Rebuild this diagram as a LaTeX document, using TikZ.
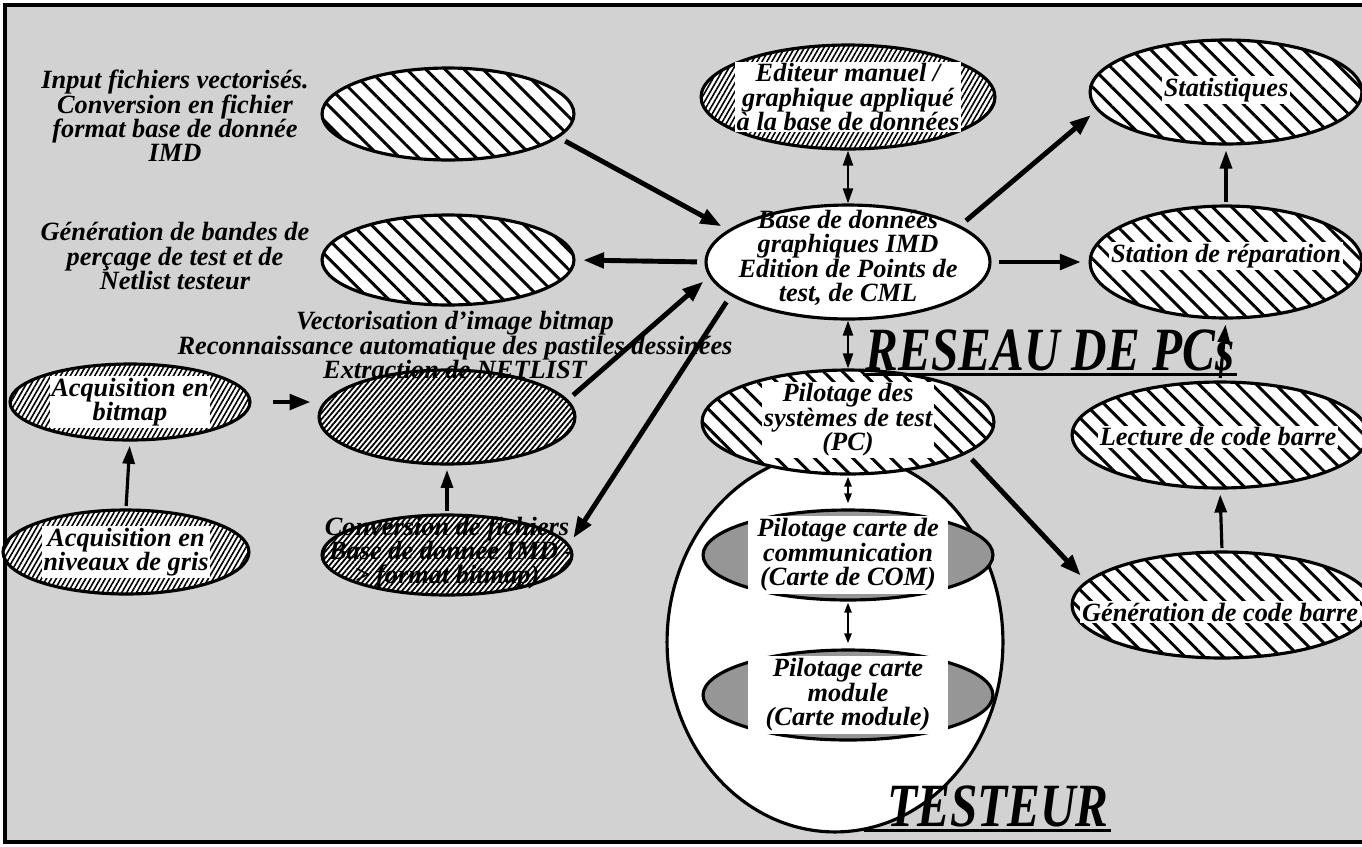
\documentclass[tikz,border=0pt]{standalone}
\usepackage{graphicx}
\usepackage{fontspec}
\setmainfont{Liberation Serif}
\usetikzlibrary{arrows.meta,shapes.geometric,patterns.meta}
\definecolor{paper}{RGB}{210,210,210}
\definecolor{cardgray}{RGB}{150,150,150}
\newcommand{\narrowtitle}[1]{\scalebox{0.8}[1]{#1}}
\tikzset{
  oval/.style 2 args={
    ellipse,
    draw=black,
    line width=1.8pt,
    inner sep=0pt,
    minimum width=0.04cm*#1,
    minimum height=0.04cm*#2
  },
  widehatch/.style={
    preaction={fill=white},
    pattern={Lines[angle=-45,distance=0.27cm,line width=1.7pt]},
    pattern color=black
  },
  finehatch/.style={
    preaction={fill=white},
    pattern={Lines[angle=60,distance=0.085cm,line width=0.9pt]},
    pattern color=black
  },
  densehatch/.style={
    preaction={fill=white},
    pattern={Lines[angle=50,distance=0.08cm,line width=1pt]},
    pattern color=black
  },
  cardfill/.style={
    fill=cardgray
  },
  txt/.style={
    align=center,
    inner sep=1pt,
    font=\bfseries\itshape\fontsize{15}{13.9}\selectfont
  },
  boxed/.style={
    txt,
    fill=white
  },
  bigtitle/.style={
    inner sep=1pt,
    font=\bfseries\itshape\fontsize{35}{35}\selectfont
  },
  bigarrow/.style={
    -{Triangle[length=0.42cm,width=0.3cm]},
    line width=2.8pt,
    shorten <=0.15cm,
    shorten >=0.15cm
  },
  uparrow/.style={
    -{Triangle[length=0.36cm,width=0.24cm]},
    line width=1.8pt,
    shorten <=0.05cm,
    shorten >=0.1cm
  },
  twoway/.style={
    {Triangle[length=0.3cm,width=0.2cm]}-{Triangle[length=0.3cm,width=0.2cm]},
    line width=1.3pt
  },
  smalltwoway/.style={
    {Triangle[length=0.2cm,width=0.14cm]}-{Triangle[length=0.2cm,width=0.14cm]},
    line width=1.3pt,
    shorten <=0.1cm,
    shorten >=0.02cm
  }
}

\begin{document}
\begin{tikzpicture}[x=0.02cm,y=-0.02cm]
\useasboundingbox (0,0) rectangle (1362,846);
\clip (0,0) rectangle (1362,846);
% fond et cadre
\fill[paper] (5,5) rectangle (1362,842);
\draw[line width=1.8pt] (1362,5) -- (5,5) -- (5,842) -- (1362,842);

% testeur
\node[oval={168}{190}, fill=white] (testeur) at (835,642) {};

% colonne de gauche
\node[oval={126}{46}, widehatch] (inp) at (448,114) {};
\node[oval={126}{45}, widehatch] (net) at (448,260) {};
\node[txt] (inptxt) at (175,116) {Input fichiers vectorisés.\\Conversion en fichier\\format base de donnée\\IMD};
\node[txt] (nettxt) at (175,256) {Génération de bandes de\\perçage de test et de\\Netlist testeur};
\node[oval={120}{38}, finehatch] (acqb) at (130,402) {};
\node[boxed] (acqbtxt) at (acqb) {Acquisition en\\bitmap};
\node[oval={123}{42}, finehatch] (acqg) at (126,552) {};
\node[boxed] (acqgtxt) at (acqg) {Acquisition en\\niveaux de gris};
\node[oval={128}{47}, densehatch] (vect) at (447,417) {};
\node[txt] (vecttxt) at (455,345) {Vectorisation d'image bitmap\\Reconnaissance automatique des pastiles dessinées\\Extraction de NETLIST};
\node[oval={125}{40}, densehatch] (conv) at (447,555) {};
\node[txt] (convtxt) at (447,553) {Conversion de fichiers\\(Base de donnée IMD -\\> format bitmap)};

% centre
\node[oval={142}{57}, fill=white] (base) at (848,262) {};
\node[txt] (basetxt) at (848,258) {Base de données\\graphiques IMD\\Edition de Points de\\test, de CML};
\node[oval={147}{52}, finehatch] (edit) at (848,97) {};
\node[boxed] (edittxt) at (edit) {Editeur manuel /\\graphique appliqué\\à la base de données};
\node[oval={146}{52}, widehatch] (pil) at (848,422) {};
\node[boxed] (piltxt) at (848,420) {Pilotage des\\systèmes de test\\(PC)};
\node[oval={145}{45}, cardfill] (comm) at (848,555) {};
\node[boxed, minimum width=4cm, minimum height=1.55cm] (commtxt) at (comm) {Pilotage carte de\\communication\\(Carte de COM)};
\node[oval={145}{45}, cardfill] (module) at (848,695) {};
\node[boxed, minimum width=4cm, minimum height=1.55cm] (moduletxt) at (module) {Pilotage carte\\module\\(Carte module)};

% droite
\node[oval={136}{52}, widehatch] (stat) at (1226,92) {};
\node[boxed] (stattxt) at (1226,90) {Statistiques};
\node[oval={136}{56}, widehatch] (station) at (1226,262) {};
\node[boxed] (stationtxt) at (1226,256) {Station de réparation};
\node[oval={148}{53}, widehatch] (lect) at (1220,435) {};
\node[boxed] (lecttxt) at (1218,437) {Lecture de code barre};
\node[oval={150}{53}, widehatch] (gen) at (1222,605) {};
\node[boxed] (gentxt) at (1220,612) {Génération de code barre};

% titres
\node[bigtitle] (reseau) at (1050,350) {\narrowtitle{RESEAU DE PCs}};
\node[bigtitle] (testtitle) at (998,806) {\narrowtitle{TESTEUR}};
\draw[line width=1.6pt] ([yshift=-2.5pt]reseau.base west) -- ([yshift=-2.5pt]reseau.base east);
\draw[line width=1.6pt] ([yshift=-2.5pt,xshift=-12pt]testtitle.base west) -- ([yshift=-2.5pt]testtitle.base east);

% fleches
\draw[bigarrow] (inp.-12) -- (base.165);
\draw[bigarrow] (base.west) -- (net.east);
\draw[bigarrow] (vect.8) -- (base.186);
\draw[bigarrow] (base.196) -- (conv.5);
\draw[bigarrow] (base.18) -- (stat.188);
\draw[bigarrow] (base.east) -- (station.west);
\draw[bigarrow] (pil.-15) -- (gen.170);
\draw[bigarrow, shorten <=0.45cm] (acqb.east) -- (acqb.east -| vect.west);
\draw[uparrow] (acqg.north) -- (acqb.south);
\draw[uparrow] (conv.north) -- (vect.south);
\draw[uparrow] (station.north) -- (stat.south);
\draw[uparrow] (lect.north) -- (station.south);
\draw[uparrow] (gen.north) -- (lect.south);
\draw[twoway] (edit.south) -- (base.north);
\draw[twoway] (base.south) -- (pil.north);
\draw[smalltwoway] (comm.north) -- (pil.south);
\draw[smalltwoway] (module.north) -- (comm.south);
\end{tikzpicture}
\end{document}
